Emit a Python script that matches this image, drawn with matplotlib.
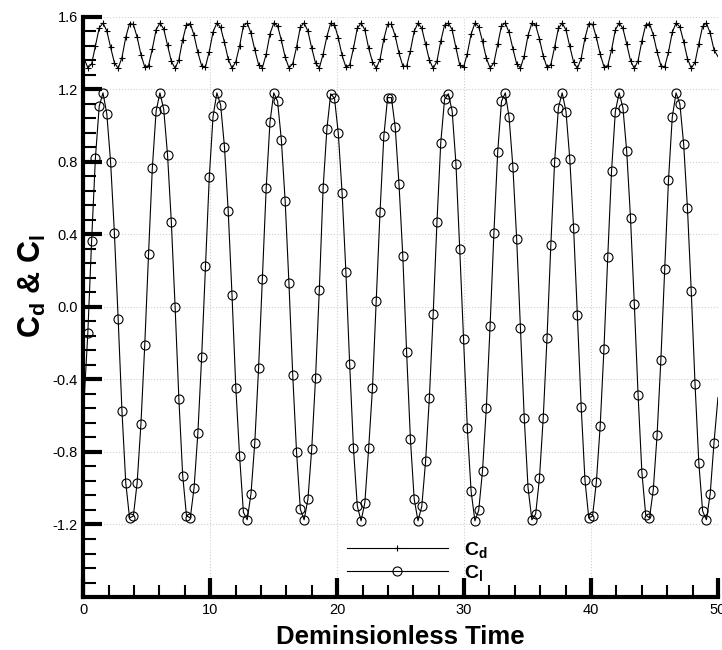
import numpy as np
import matplotlib
matplotlib.use('Agg')
import matplotlib.pyplot as plt

plt.rcParams['font.family'] = ['Liberation Sans', 'DejaVu Sans']
plt.rcParams['mathtext.fontset'] = 'custom'
plt.rcParams['mathtext.rm'] = 'Liberation Sans'
plt.rcParams['mathtext.bf'] = 'Liberation Sans:bold'
plt.rcParams['axes.unicode_minus'] = False

# sample times of the symbols (every 0.299 time units), line runs 0..50
t_first = 0.354
dt = 0.299
n_mark = 166

# lift coefficient, first/last value are line-only end points
cl = [-0.60,
      -0.145, 0.364, 0.82, 1.106, 1.18, 1.065, 0.80, 0.41, -0.068, -0.575,
      -0.97, -1.164, -1.153, -0.97, -0.644, -0.212, 0.29, 0.766, 1.08, 1.18,
      1.09, 0.84, 0.47, 0.0, -0.51, -0.93, -1.152, -1.164, -0.997, -0.696,
      -0.274, 0.225, 0.714, 1.05, 1.18, 1.113, 0.884, 0.526, 0.063, -0.447,
      -0.825, -1.133, -1.174, -1.03, -0.748, -0.336, 0.156, 0.655, 1.019, 1.18,
      1.133, 0.921, 0.583, 0.129, -0.378, -0.80, -1.116, -1.174, -1.06, -0.783,
      -0.395, 0.094, 0.655, 0.982, 1.175, 1.15, 0.957, 0.63, 0.194, -0.316,
      -0.78, -1.097, -1.18, -1.08, -0.78, -0.45, 0.032, 0.524, 0.942, 1.154,
      1.154, 0.99, 0.676, 0.28, -0.249, -0.728, -1.06, -1.18, -1.10, -0.852,
      -0.50, -0.041, 0.468, 0.905, 1.144, 1.175, 1.08, 0.79, 0.318, -0.176,
      -0.669, -1.018, -1.18, -1.122, -0.904, -0.56, -0.104, 0.406, 0.853, 1.133,
      1.18, 1.046, 0.774, 0.375, -0.114, -0.613, -0.997, -1.174, -1.143, -0.946,
      -0.613, -0.17, 0.339, 0.80, 1.098, 1.18, 1.077, 0.815, 0.437, -0.047,
      -0.55, -0.956, -1.164, -1.153, -0.966, -0.659, -0.232, 0.275, 0.749, 1.077,
      1.18, 1.098, 0.857, 0.489, 0.017, -0.488, -0.914, -1.147, -1.164, -1.008,
      -0.707, -0.291, 0.208, 0.697, 1.046, 1.18, 1.119, 0.899, 0.545, 0.088,
      -0.426, -0.862, -1.126, -1.174, -1.03, -0.748,
      -0.50]

# drag coefficient at the same times
cd = [1.38,
      1.319, 1.339, 1.438, 1.538, 1.565, 1.522, 1.432, 1.346, 1.316, 1.375,
      1.487, 1.562, 1.558, 1.487, 1.391, 1.323, 1.330, 1.422, 1.528, 1.565,
      1.532, 1.444, 1.355, 1.315, 1.363, 1.473, 1.557, 1.562, 1.497, 1.403,
      1.329, 1.324, 1.408, 1.516, 1.565, 1.541, 1.458, 1.366, 1.316, 1.352,
      1.439, 1.550, 1.565, 1.509, 1.417, 1.336, 1.319, 1.393, 1.505, 1.565,
      1.550, 1.470, 1.377, 1.318, 1.341, 1.432, 1.543, 1.565, 1.520, 1.427,
      1.344, 1.317, 1.393, 1.491, 1.565, 1.557, 1.482, 1.387, 1.322, 1.333,
      1.426, 1.535, 1.565, 1.528, 1.426, 1.352, 1.315, 1.365, 1.477, 1.558,
      1.558, 1.494, 1.398, 1.329, 1.326, 1.412, 1.520, 1.565, 1.536, 1.448,
      1.361, 1.315, 1.355, 1.465, 1.554, 1.565, 1.528, 1.429, 1.333, 1.321,
      1.397, 1.504, 1.565, 1.545, 1.464, 1.372, 1.317, 1.345, 1.448, 1.550,
      1.565, 1.514, 1.424, 1.340, 1.317, 1.384, 1.497, 1.565, 1.554, 1.478,
      1.384, 1.320, 1.336, 1.432, 1.535, 1.565, 1.527, 1.436, 1.350, 1.315,
      1.370, 1.482, 1.562, 1.558, 1.486, 1.394, 1.325, 1.329, 1.417, 1.527,
      1.565, 1.535, 1.449, 1.358, 1.315, 1.358, 1.467, 1.555, 1.562, 1.500,
      1.406, 1.330, 1.323, 1.404, 1.514, 1.565, 1.544, 1.463, 1.369, 1.316,
      1.348, 1.451, 1.547, 1.565, 1.509, 1.417,
      1.38]

t_mark = t_first + dt * np.arange(n_mark)
t = np.concatenate([[0.0], t_mark, [50.0]])

fig = plt.figure(figsize=(7.22, 6.5), dpi=100)
ax = fig.add_axes([0.1154, 0.0815, 0.879, 0.8928])

ax.plot(t, cd, color='black', lw=0.8, marker='+', ms=4.5, mew=0.8,
        markevery=slice(1, -1), label=r'$\mathbf{C_d}$')
ax.plot(t, cl, color='black', lw=0.8, marker='o', ms=6.5, mew=0.8,
        mfc='none', markevery=slice(1, -1), label=r'$\mathbf{C_l}$')

ax.set_xlim(0, 50)
ax.set_ylim(-1.6, 1.6)
ax.set_xticks(np.arange(0, 51, 10))
ax.set_xticks(np.arange(0, 51, 2), minor=True)
ax.set_yticks(np.arange(-1.2, 1.61, 0.4))
ax.set_yticks(np.arange(-1.6, 1.61, 0.08), minor=True)
ax.yaxis.set_major_formatter(matplotlib.ticker.FormatStrFormatter('%.1f'))

for s in ['top', 'right']:
    ax.spines[s].set_visible(False)
for s in ['left', 'bottom']:
    ax.spines[s].set_linewidth(3)
ax.tick_params(which='major', direction='in', length=14, width=3,
               labelsize=10.5, pad=4)
ax.tick_params(which='minor', direction='in', length=9, width=1.5)
ax.grid(which='major', linestyle=':', color='#d0d0d0', lw=0.8)

ax.set_xlabel('Deminsionless Time', fontsize=18.5, fontweight='bold', labelpad=6)
ax.set_ylabel(r'$\mathbf{C_d}$ & $\mathbf{C_l}$', fontsize=22,
              fontweight='bold')
ax.yaxis.set_label_coords(-0.055, 0.536)

ax.legend(loc='lower left', bbox_to_anchor=(0.415, 0.025), frameon=False,
          fontsize=14, handlelength=5.2, handletextpad=0.85, numpoints=1,
          labelspacing=0.15, borderpad=0, borderaxespad=0)

fig.savefig('out.png', dpi=100)
